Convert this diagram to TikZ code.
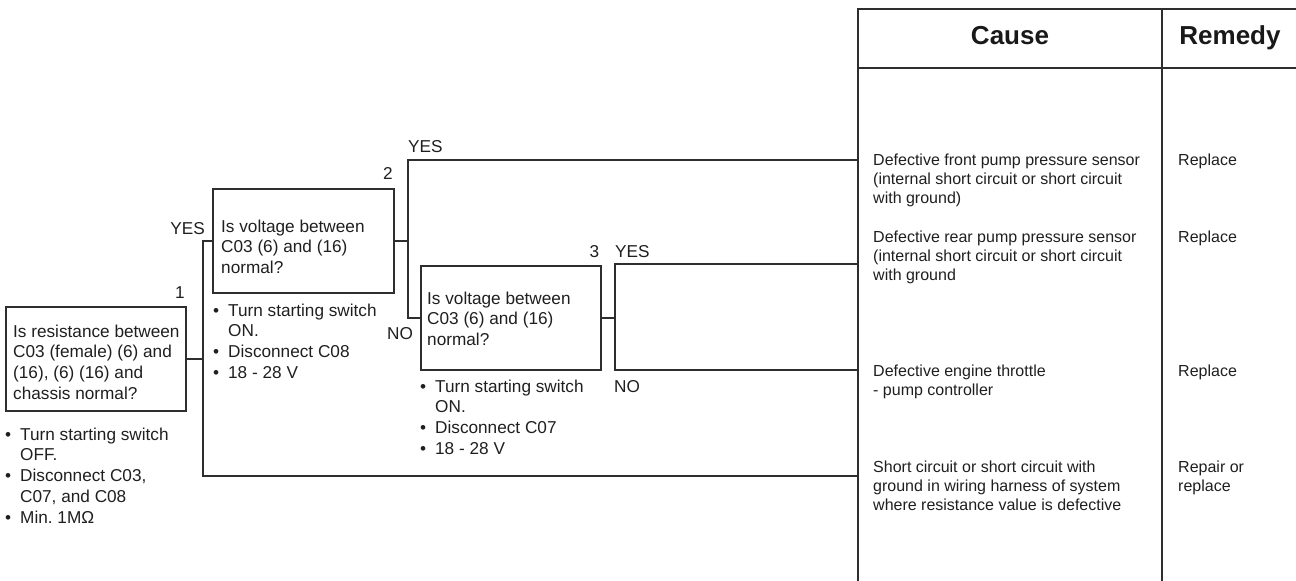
\documentclass[tikz,border=0pt]{standalone}
\usepackage{fontspec}
\setmainfont{Liberation Sans}
\frenchspacing
\newcommand{\fcpar}[1]{\parbox[t]{420pt}{#1}}
\newcommand{\fcitem}[1]{\par\noindent\hangindent=15pt\hangafter=1\makebox[15pt][l]{•}#1}
\begin{document}
\begin{tikzpicture}[x=1pt,y=-1pt,
  ln/.style={draw=black!82,line width=1.3pt},
  qbox/.style={ln,inner sep=0,minimum width=#1,fill=none},
  fc/.style={inner sep=0,anchor=base west,text=black!88,font=\fontsize{17.2}{20.8}\selectfont},
  lab/.style={inner sep=0,text=black!88,font=\fontsize{17.2}{20.8}\selectfont},
  tb/.style={inner sep=0,anchor=base west,text=black!88,font=\fontsize{16}{19}\selectfont},
  hd/.style={inner sep=0,anchor=base,text=black!90,font=\fontsize{26}{30}\selectfont\bfseries}]
\useasboundingbox (0,0) rectangle (1296,581);
% boxes
\node[qbox=180pt,minimum height=104pt] (b1) at (96,359) {};
\node[qbox=181pt,minimum height=104pt] (b2) at (303.5,241) {};
\node[qbox=180pt,minimum height=104pt] (b3) at (511,318) {};
% box texts
\node[fc] (b1t) at (13,337) {\fcpar{Is resistance between\\C03 (female) (6) and\\(16), (6) (16) and\\chassis normal?}};
\node[fc] (b2t) at (221,232) {\fcpar{Is voltage between\\C03 (6) and (16)\\normal?}};
\node[fc] (b3t) at (427,304) {\fcpar{Is voltage between\\C03 (6) and (16)\\normal?}};
% bullets
\node[fc] (b1l) at (5,440) {\fcpar{\fcitem{Turn starting switch\\OFF.}\fcitem{Disconnect C03,\\C07, and C08}\fcitem{Min. 1MΩ}}};
\node[fc] (b2l) at (213,316) {\fcpar{\fcitem{Turn starting switch\\ON.}\fcitem{Disconnect C08}\fcitem{18 - 28 V}}};
\node[fc] (b3l) at (420,392) {\fcpar{\fcitem{Turn starting switch\\ON.}\fcitem{Disconnect C07}\fcitem{18 - 28 V}}};
% numbers and labels
\node[lab,anchor=base] (n1) at (180,298) {1};
\node[lab,anchor=base] (n2) at (388,179) {2};
\node[lab,anchor=base] (n3) at (594.5,257) {3};
\node[lab,anchor=base east] (y1) at (205,234) {YES};
\node[lab,anchor=base west] (y2) at (408,152) {YES};
\node[lab,anchor=base west] (no2) at (387,339) {NO};
\node[lab,anchor=base west] (y3) at (615,257) {YES};
\node[lab,anchor=base west] (no3) at (614,392) {NO};
% table
\coordinate (tl) at (858,9);
\coordinate (tr) at (1296,9);
\coordinate (tbl) at (858,581);
\coordinate (cd) at (1162,9);
\coordinate (cdb) at (1162,581);
\coordinate (hl) at (858,68);
\coordinate (hr) at (1296,68);
\draw[ln] (tr) -- (tl) -- (tbl);
\draw[ln] (cd) -- (cdb);
\draw[ln] (hl) -- (hr);
\node[hd] (hc) at (1010,44) {Cause};
\node[hd] (hrm) at (1230,44) {Remedy};
% table entry points
\coordinate (t1) at (858,160);
\coordinate (t2) at (858,264);
\coordinate (t3) at (858,370);
\coordinate (t4) at (858,476);
% connectors
\coordinate (v1) at (203,0);
\coordinate (v2) at (408,0);
\coordinate (v3) at (615,0);
\draw[ln] (b1.east) -- (b1.east -| v1);
\draw[ln] (b2.west) -| (v1 |- t4) -- (t4);
\draw[ln] (b2.east) -- (b2.east -| v2);
\draw[ln] (t1) -| (v2 |- b3.west) -- (b3.west);
\draw[ln] (b3.east) -- (b3.east -| v3);
\draw[ln] (t2) -| (v3 |- t3) -- (t3);
% causes
\node[tb] (c1) at (873,165) {\fcpar{Defective front pump pressure sensor\\(internal short circuit or short circuit\\with ground)}};
\node[tb] (c2) at (873,242) {\fcpar{Defective rear pump pressure sensor\\(internal short circuit or short circuit\\with ground}};
\node[tb] (c3) at (873,376) {\fcpar{Defective engine throttle\\- pump controller}};
\node[tb] (c4) at (873,472) {\fcpar{Short circuit or short circuit with\\ground in wiring harness of system\\where resistance value is defective}};
\node[tb] (r1) at (1178,165) {Replace};
\node[tb] (r2) at (1178,242) {Replace};
\node[tb] (r3) at (1178,376) {Replace};
\node[tb] (r4) at (1178,472) {\fcpar{Repair or\\replace}};
\end{tikzpicture}
\end{document}
